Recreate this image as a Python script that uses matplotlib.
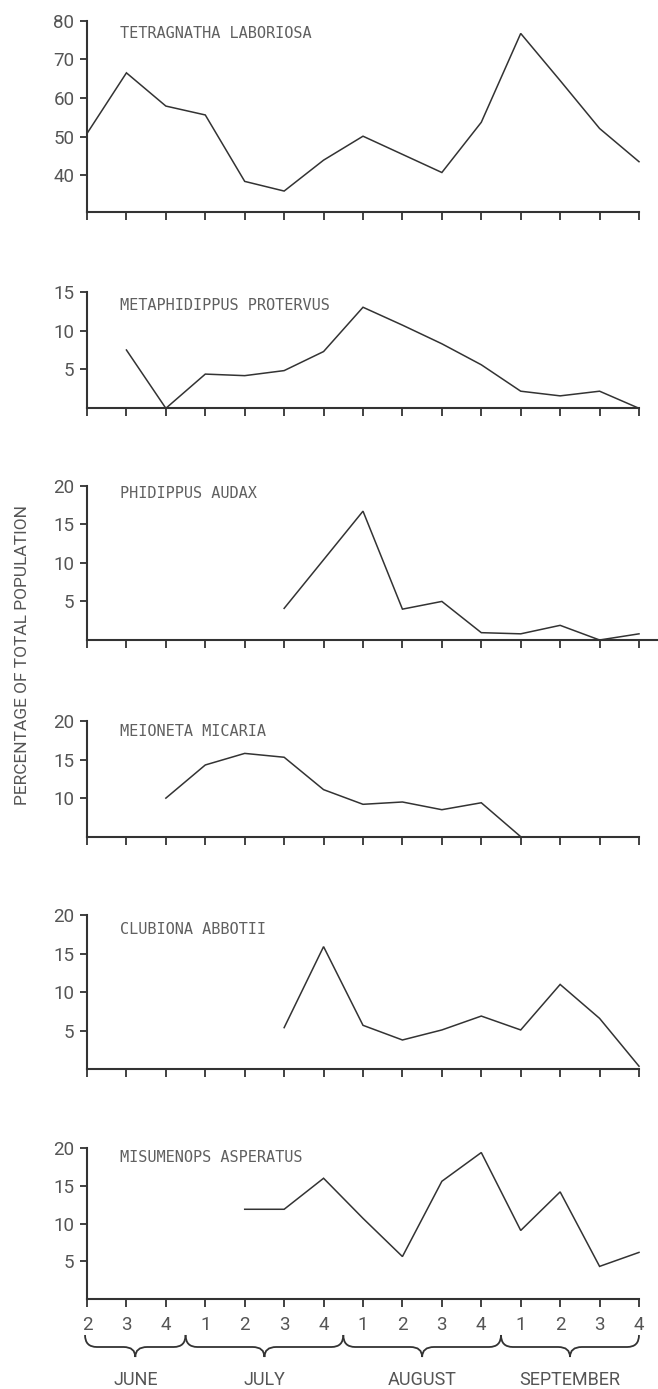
import numpy as np
import matplotlib
matplotlib.use("Agg")
import matplotlib.pyplot as plt
import matplotlib.transforms as mtransforms
from matplotlib.path import Path
from matplotlib.patches import PathPatch

nan = np.nan

# week of month for each sampling date (June wk2 .. September wk4)
week_labels = ['2', '3', '4', '1', '2', '3', '4', '1', '2', '3', '4', '1', '2', '3', '4']
months = ['JUNE', 'JULY', 'AUGUST', 'SEPTEMBER']

species = ['TETRAGNATHA LABORIOSA', 'METAPHIDIPPUS PROTERVUS', 'PHIDIPPUS AUDAX',
           'MEIONETA MICARIA', 'CLUBIONA ABBOTII', 'MISUMENOPS ASPERATUS']

tetragnatha = [50.8, 66.5, 57.9, 55.6, 38.4, 35.9, 43.9, 50.1, 45.4, 40.7, 53.7, 76.7, 64.5, 52.1, 43.5]
metaphidippus = [nan, 7.5, 0.0, 4.4, 4.2, 4.85, 7.3, 13.0, 10.7, 8.3, 5.6, 2.2, 1.6, 2.2, 0.0]
phidippus = [nan, nan, nan, nan, nan, 4.1, 10.4, 16.7, 4.0, 5.0, 0.95, 0.8, 1.9, 0.0, 0.8]
meioneta = [nan, nan, 10.0, 14.3, 15.8, 15.3, 11.1, 9.2, 9.5, 8.5, 9.4, 5.0, nan, nan, nan]
clubiona = [nan, nan, nan, nan, nan, 5.4, 15.9, 5.7, 3.8, 5.1, 6.9, 5.1, 11.0, 6.6, 0.4]
misumenops = [nan, nan, nan, nan, 11.9, 11.9, 16.0, 10.7, 5.65, 15.6, 19.4, 9.1, 14.2, 4.35, 6.2]

series = [tetragnatha, metaphidippus, phidippus, meioneta, clubiona, misumenops]
y_ranges = [(30.4, 80), (0, 15), (0, 20), (5, 20), (0, 20), (0, 20)]
y_ticks = [[40, 50, 60, 70, 80], [5, 10, 15], [5, 10, 15, 20], [10, 15, 20], [5, 10, 15, 20], [5, 10, 15, 20]]

# layout in pixels: (top, bottom, right, label y)
W, H = 658, 1389
LEFT = 87
layout = [(20.7, 212.3, 639, 33), (291.7, 408.3, 639, 306), (485.7, 640, 658, 493),
          (721, 836.7, 639, 732), (915, 1069.3, 639, 929), (1148, 1299.3, 639, 1158)]

INK = '#333333'
TXT = '#555555'
narrow = ['Roboto', 'DejaVu Sans']
mono = ['DejaVu Sans Mono']

fig = plt.figure(figsize=(W / 100, H / 100), dpi=100)
weeks = np.arange(len(week_labels))
step = (639 - LEFT) / (len(weeks) - 1)

axes = []
for i, (top, bottom, right, ly) in enumerate(layout):
    ax = fig.add_axes([LEFT / W, 1 - bottom / H, (right - LEFT) / W, (bottom - top) / H])
    ax.patch.set_alpha(0)
    ax.plot(weeks, series[i], color=INK, lw=1.1, clip_on=False, solid_joinstyle='miter')
    ax.set_xlim(0, (right - LEFT) / step)
    ax.set_ylim(*y_ranges[i])
    ax.set_yticks(y_ticks[i])
    ax.set_yticklabels([str(t) for t in y_ticks[i]], family=narrow, fontsize=13.5, color=TXT)
    ax.set_xticks(weeks)
    ax.set_xticklabels([])
    for s in ['top', 'right']:
        ax.spines[s].set_visible(False)
    for s in ['left', 'bottom']:
        ax.spines[s].set_color(INK)
        ax.spines[s].set_linewidth(1.5)
    ax.tick_params(axis='y', direction='out', length=5, width=1.3, color=INK, pad=4)
    ax.tick_params(axis='x', direction='out', length=6, width=1.3, color=INK)
    fig.text(120 / W, 1 - ly / H, species[i], family=mono, fontsize=11, color='#606060',
             ha='left', va='center')
    axes.append(ax)

# bottom week labels
ax = axes[-1]
ax.set_xticklabels(week_labels, family=narrow, fontsize=13.5, color=TXT)
ax.tick_params(axis='x', pad=6)

# month braces
trans = mtransforms.blended_transform_factory(ax.transData, fig.transFigure)
starts = [0] + [i for i, w in enumerate(week_labels) if w == '1']
bounds = [s - 0.5 if s > 0 else -0.05 for s in starts] + [weeks[-1]]
y_top = 1 - 1335 / H
y_mid = 1 - 1347 / H
y_tip = 1 - 1357 / H
r = 0.3
for k, name in enumerate(months):
    x0, x1 = bounds[k], bounds[k + 1]
    xm = (x0 + x1) / 2
    verts = [(x0, y_top), (x0, y_mid), (x0 + r, y_mid),
             (xm - r, y_mid), (xm, y_mid), (xm, y_tip),
             (xm, y_mid), (xm + r, y_mid),
             (x1 - r, y_mid), (x1, y_mid), (x1, y_top)]
    codes = [Path.MOVETO, Path.CURVE3, Path.CURVE3,
             Path.LINETO, Path.CURVE3, Path.CURVE3,
             Path.CURVE3, Path.CURVE3,
             Path.LINETO, Path.CURVE3, Path.CURVE3]
    patch = PathPatch(Path(verts, codes), transform=trans, fill=False,
                      edgecolor=INK, lw=1.3, clip_on=False)
    fig.add_artist(patch)
    ax.text(xm, 1 - 1380 / H, name, transform=trans, family=narrow,
            fontsize=13, color=TXT, ha='center', va='center')

fig.text(23 / W, 1 - 655 / H, 'PERCENTAGE OF TOTAL POPULATION', family=narrow,
         fontsize=12.5, color=TXT, rotation=90, ha='center', va='center')

fig.savefig('out.png', dpi=100, facecolor='white')
